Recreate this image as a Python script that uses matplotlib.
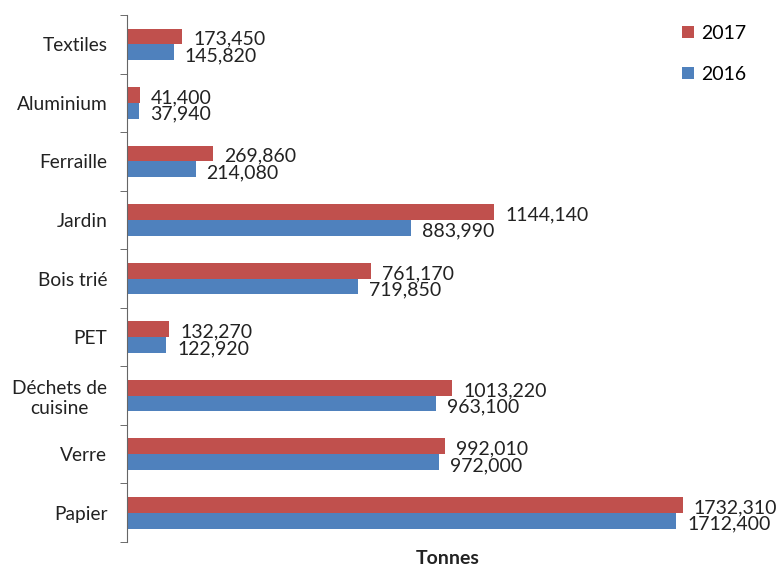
import matplotlib
matplotlib.use("Agg")
import matplotlib.pyplot as plt
import numpy as np

categories = ["Textiles", "Aluminium", "Ferraille", "Jardin", "Bois trié", "PET",
              "Déchets de\ncuisine", "Verre", "Papier"]
v2017 = [173.450, 41.400, 269.860, 1144.140, 761.170, 132.270, 1013.220, 992.010, 1732.310]
v2016 = [145.820, 37.940, 214.080, 883.990, 719.850, 122.920, 963.100, 972.000, 1712.400]
lab2017 = ["173,450", "41,400", "269,860", "1144,140", "761,170", "132,270", "1013,220", "992,010", "1732,310"]
lab2016 = ["145,820", "37,940", "214,080", "883,990", "719,850", "122,920", "963,100", "972,000", "1712,400"]

plt.rcParams['font.family'] = ['Lato', 'DejaVu Sans']

fig = plt.figure(figsize=(7.78, 5.66), dpi=100)
ax = fig.add_axes([0.163, 0.0424, 0.825, 0.931])

red = "#C0504D"
blue = "#4F81BD"
h = 0.27
y = np.arange(len(categories))
b17 = ax.barh(y - h / 2, v2017, height=h, color=red, label="2017")
b16 = ax.barh(y + h / 2, v2016, height=h, color=blue, label="2016")

for yi, v, t in zip(y, v2017, lab2017):
    ax.annotate(t, (v, yi - h / 2), xytext=(8, -2), textcoords="offset points",
                va="center", ha="left", fontsize=14, color="#222222")
for yi, v, t in zip(y, v2016, lab2016):
    ax.annotate(t, (v, yi + h / 2), xytext=(8, -2.5), textcoords="offset points",
                va="center", ha="left", fontsize=14, color="#222222")

ax.set_ylim(len(categories) - 0.5, -0.5)
ax.set_xlim(0, 2000)
ax.set_yticks(y)
ax.set_yticklabels(categories, fontsize=13.8, color="#222222", multialignment="center")
ax.set_yticks(np.arange(-0.5, len(categories), 1), minor=True)
ax.tick_params(axis="y", which="major", length=0, pad=14)
ax.tick_params(axis="y", which="minor", length=5, direction="out", color="#555555")
ax.set_xticks([])
for s in ["top", "right", "bottom"]:
    ax.spines[s].set_visible(False)
ax.spines["left"].set_color("#666666")

ax.set_xlabel("Tonnes", fontsize=14, fontweight="bold", labelpad=6, color="#222222")

handles = [b17, b16]
leg = ax.legend(handles, ["2017", "2016"], loc="upper right", bbox_to_anchor=(0.993, 1.015),
                frameon=False, fontsize=14, handlelength=0.6, handleheight=0.6,
                labelspacing=1.25, handletextpad=0.4)

fig.savefig("out.png", dpi=100)
